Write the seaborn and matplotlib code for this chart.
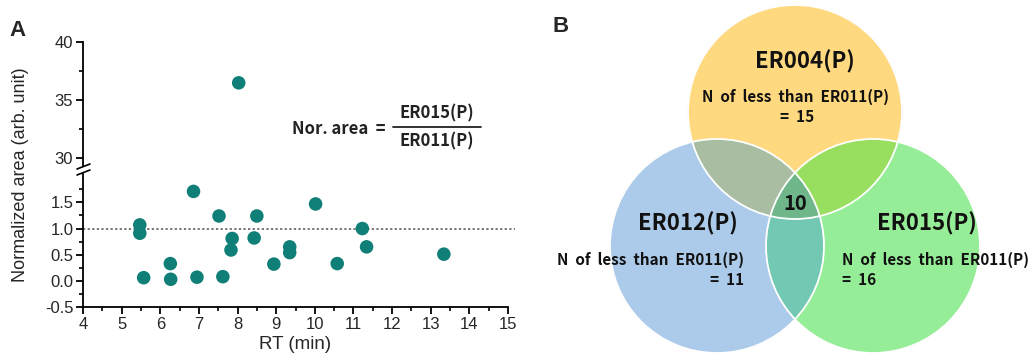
import numpy as np
import pandas as pd
import matplotlib
matplotlib.use('Agg')
import matplotlib.pyplot as plt
import matplotlib.ticker as mtick
from matplotlib.lines import Line2D
from matplotlib.patches import Circle, Polygon
import seaborn as sns

# ---- data: panel A (retention time vs normalized area) ----
rt = [5.47, 5.47, 5.57, 6.26, 6.27, 6.86, 6.95, 7.52, 7.62, 7.86, 7.83,
      8.03, 8.50, 8.43, 8.94, 9.35, 9.35, 10.02, 10.58, 11.23, 11.34, 13.34]
nor_area = [1.07, 0.91, 0.06, 0.33, 0.03, 1.71, 0.07, 1.24, 0.08, 0.81, 0.59,
            36.47, 1.24, 0.82, 0.32, 0.65, 0.54, 1.47, 0.33, 1.00, 0.65, 0.51]
ref_level = 1.0

# ---- data: panel B (venn counts) ----
venn_names = ['ER004(P)', 'ER012(P)', 'ER015(P)']
venn_counts = [15, 11, 16]
venn_common = 10

df = pd.DataFrame({'rt': rt, 'area': nor_area})

sns.set_style('ticks')
plt.rcParams['font.family'] = ['Liberation Sans', 'DejaVu Sans']
W, H = 1030, 362
fig = plt.figure(figsize=(W / 100, H / 100), dpi=100)

def fx(px):
    return px / W

def fy(py):
    return 1 - py / H

teal = '#0f7f78'
left, right = 83, 508
ax_lo = fig.add_axes([fx(left), fy(307), fx(right - left), (307 - 171) / H])
ax_hi = fig.add_axes([fx(left), fy(171), fx(right - left), (171 - 42) / H])

for ax in (ax_lo, ax_hi):
    sns.scatterplot(data=df, x='rt', y='area', ax=ax, color=teal, s=95,
                    edgecolor='none', legend=False, zorder=3)
    ax.set_xlim(4, 15)
    ax.set_xlabel('')
    ax.set_ylabel('')
    ax.patch.set_alpha(0)
    for s in ('top', 'right'):
        ax.spines[s].set_visible(False)
    for s in ('left', 'bottom'):
        ax.spines[s].set_linewidth(1.3)
        ax.spines[s].set_color('black')
    ax.tick_params(which='major', direction='out', length=5, width=1.3,
                   labelsize=12, pad=2, color='black')
    ax.tick_params(which='minor', direction='out', length=3, width=1.2,
                   color='black')

ax_lo.set_ylim(-0.5, 2.1)
ax_lo.yaxis.set_major_locator(mtick.FixedLocator([-0.5, 0.0, 0.5, 1.0, 1.5]))
ax_lo.yaxis.set_minor_locator(mtick.FixedLocator([-0.25, 0.25, 0.75, 1.25, 1.75]))
ax_lo.yaxis.set_major_formatter(mtick.FormatStrFormatter('%.1f'))
ax_lo.xaxis.set_major_locator(mtick.MultipleLocator(1))
ax_lo.xaxis.set_minor_locator(mtick.MultipleLocator(0.5))
ax_lo.axhline(ref_level, xmin=0, xmax=1.016, color='#555555', lw=1.1,
              ls=(0, (1.5, 1.5)), clip_on=False, zorder=2)

ax_hi.set_ylim(28.85, 40)
ax_hi.yaxis.set_major_locator(mtick.FixedLocator([30, 35, 40]))
ax_hi.yaxis.set_minor_locator(mtick.FixedLocator([32.5, 37.5]))
ax_hi.spines['bottom'].set_visible(False)
ax_hi.tick_params(axis='x', which='both', bottom=False, labelbottom=False)

ax_lo.set_xlabel('RT (min)', fontsize=13.5, labelpad=3)
fig.text(fx(21), fy(175), 'Normalized area (arb. unit)', rotation=90,
         ha='center', va='center', fontsize=13)

# axis break marks
fig.patches.append(Polygon([[fx(78), fy(168.5)], [fx(89), fy(164.5)],
                            [fx(89), fy(170.5)], [fx(78), fy(174.5)]],
                           closed=True, transform=fig.transFigure,
                           facecolor='white', edgecolor='none', zorder=5))
for dy in (0, 6):
    fig.lines.append(Line2D([fx(77), fx(90)], [fy(169 + dy), fy(164 + dy)],
                            transform=fig.transFigure, color='black', lw=1.2,
                            zorder=6))

# ratio annotation
eq_font = ['Noto Sans CJK KR', 'DejaVu Sans']
fig.text(fx(386), fy(129), 'Nor. area  =', ha='right', va='center',
         fontsize=12, family=eq_font, weight='bold', color='#222222')
fig.lines.append(Line2D([fx(393), fx(481)], [fy(127), fy(127)],
                        transform=fig.transFigure, color='#222222', lw=1.3))
fig.text(fx(437), fy(113), 'ER015(P)', ha='center', va='center',
         fontsize=12, family=eq_font, weight='bold', color='#222222')
fig.text(fx(437), fy(141), 'ER011(P)', ha='center', va='center',
         fontsize=12, family=eq_font, weight='bold', color='#222222')

fig.text(fx(17), fy(30), 'A', fontsize=16, weight='bold', ha='center',
         va='center', family=['Liberation Sans'])
fig.text(fx(561), fy(27), 'B', fontsize=16, weight='bold', ha='center',
         va='center', family=['Liberation Sans'])

# ---- panel B: venn ----
ax_b = fig.add_axes([fx(540), 0, fx(W - 540), 1])
ax_b.set_xlim(540, W)
ax_b.set_ylim(H, 0)
ax_b.axis('off')

r = 107
centers = [(795, 112), (717, 246), (873, 246)]
region_colors = {
    (1, 0, 0): '#fed97f', (0, 1, 0): '#adcbea', (0, 0, 1): '#96ee97',
    (1, 1, 0): '#a8bda2', (1, 0, 1): '#98e05f', (0, 1, 1): '#74c8b3',
    (1, 1, 1): '#70b88c'}
sc = 3
gx = (np.arange((W - 540) * sc) + 0.5) / sc + 540
gy = (np.arange(H * sc) + 0.5) / sc
GX, GY = np.meshgrid(gx, gy)
masks = [((GX - cx) ** 2 + (GY - cy) ** 2) <= r ** 2 for cx, cy in centers]
img = np.zeros(GX.shape + (4,))
for key, col in region_colors.items():
    m = np.ones(GX.shape, bool)
    for k, mk in zip(key, masks):
        m &= mk if k else ~mk
    img[m] = matplotlib.colors.to_rgba(col)
ax_b.imshow(img, extent=(540, W, H, 0), interpolation='bilinear', zorder=1)
for cx, cy in centers:
    ax_b.add_patch(Circle((cx, cy), r, facecolor='none', edgecolor='white',
                          lw=1.3, zorder=2))

vfont = ['Noto Sans CJK KR', 'DejaVu Sans']
big = dict(fontsize=16, weight='bold', family=vfont, color='#111111',
           va='center', zorder=3)
small = dict(fontsize=11, weight='bold', family=vfont, color='#111111',
             va='center', zorder=3)
lbl = 'N  of  less  than  ER011(P)'
ax_b.text(805, 62, venn_names[0], ha='center', **big)
ax_b.text(796, 97, lbl, ha='center', **small)
ax_b.text(797, 117, f'=  {venn_counts[0]}', ha='center', **small)
ax_b.text(688, 224, venn_names[1], ha='center', **big)
ax_b.text(744, 260, lbl, ha='right', **small)
ax_b.text(744, 280, f'=  {venn_counts[1]}', ha='right', **small)
ax_b.text(927, 224, venn_names[2], ha='center', **big)
ax_b.text(842, 260, lbl, ha='left', **small)
ax_b.text(842, 280, f'=  {venn_counts[2]}', ha='left', **small)
ax_b.text(795, 203, str(venn_common), ha='center', fontsize=14.5,
          weight='bold', family=vfont, color='#111111', va='center', zorder=3)

fig.savefig('out.png', dpi=100)
